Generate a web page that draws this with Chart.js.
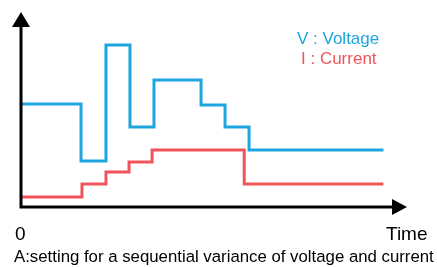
<!DOCTYPE html>
<html>
<head>
<meta charset="utf-8">
<script src="https://cdn.jsdelivr.net/npm/chart.js@4"></script>
<style>
    body { margin: 0; background: #fff; }
    #wrap { position: relative; width: 437px; height: 267px; font-family: "Liberation Sans", Arial, sans-serif; }
    #wrap canvas { position: absolute; left: 0; top: 0; }
    .lbl { position: absolute; white-space: nowrap; line-height: 1; }
</style>
</head>
<body>
<div id="wrap">
    <canvas id="vaChart" width="437" height="267"></canvas>
    <div class="lbl" id="lblV" style="left:297px; top:30px; font-size:17px; color:#1ea5e0;">V : Voltage</div>
    <div class="lbl" id="lblI" style="left:301px; top:50px; font-size:17px; color:#f0545b;">I : Current</div>
    <div class="lbl" style="left:15px; top:224px; font-size:19px; color:#000;">0</div>
    <div class="lbl" style="left:386px; top:224px; font-size:19px; color:#000;">Time</div>
    <div class="lbl" style="left:14px; top:248.5px; font-size:16.8px; color:#000;">A:setting for a sequential variance of voltage and current</div>
</div>
<script>
// tempos (unidades arbitrárias) e níveis
const voltageTimes = [0, 2.5, 3.54, 4.54, 5.54, 7.5, 8.5, 9.5, 15.1];
const voltageLevels = [10.3, 4.6, 16.2, 8.0, 12.7, 10.2, 8.0, 5.7, 5.7];
const currentTimes = [0, 2.54, 3.54, 4.5, 5.46, 9.3, 15.1];
const currentLevels = [1.0, 2.3, 3.5, 4.5, 5.7, 2.3, 2.3];

const blue = '#1ea5e0';
const red = '#f0545b';

// eixos com setas desenhados por cima
const arrowAxes = {
    id: 'arrowAxes',
    afterDraw(chart) {
        const { ctx, chartArea } = chart;
        const l = chartArea.left, b = chartArea.bottom, t = chartArea.top, r = chartArea.right;
        ctx.save();
        ctx.strokeStyle = '#000';
        ctx.fillStyle = '#000';
        ctx.lineWidth = 3;
        ctx.beginPath();
        ctx.moveTo(l, b + 1.5);
        ctx.lineTo(l, t + 14);
        ctx.moveTo(l - 1.5, b);
        ctx.lineTo(r - 14, b);
        ctx.stroke();
        // seta vertical
        ctx.beginPath();
        ctx.moveTo(l, t);
        ctx.lineTo(l - 9, t + 15);
        ctx.lineTo(l + 9, t + 15);
        ctx.closePath();
        ctx.fill();
        // seta horizontal
        ctx.beginPath();
        ctx.moveTo(r, b);
        ctx.lineTo(r - 15, b - 8);
        ctx.lineTo(r - 15, b + 8);
        ctx.closePath();
        ctx.fill();
        ctx.restore();
    }
};

new Chart(document.getElementById('vaChart'), {
    type: 'line',
    data: {
        datasets: [{
            label: 'V',
            data: voltageTimes.map((x, i) => ({ x: x, y: voltageLevels[i] })),
            borderColor: blue,
            borderWidth: 3,
            stepped: true,
            pointRadius: 0,
            fill: false
        }, {
            label: 'I',
            data: currentTimes.map((x, i) => ({ x: x, y: currentLevels[i] })),
            borderColor: red,
            borderWidth: 3,
            stepped: true,
            pointRadius: 0,
            fill: false
        }]
    },
    options: {
        responsive: false,
        animation: false,
        layout: { padding: { left: 21, right: 30, top: 12, bottom: 60 } },
        plugins: { legend: { display: false }, tooltip: { enabled: false } },
        scales: {
            x: { type: 'linear', min: 0, max: 16.08, display: false },
            y: { min: 0, max: 19.5, display: false }
        }
    },
    plugins: [arrowAxes]
});
</script>
</body>
</html>
